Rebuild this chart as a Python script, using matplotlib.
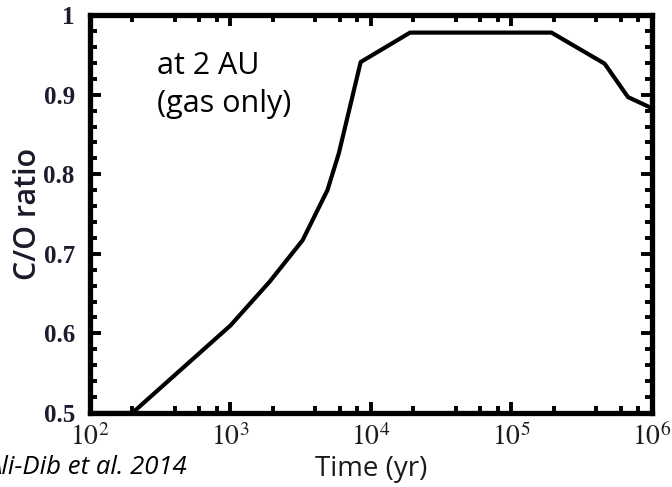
import matplotlib
matplotlib.use("Agg")
import matplotlib.pyplot as plt
from matplotlib.ticker import FixedLocator, MultipleLocator, LogLocator, NullFormatter, FuncFormatter
import numpy as np

# C/O ratio in gas at 2 AU vs time
time_yr = [100, 200, 1000, 1900, 3260, 4900, 5900, 8450, 19000, 193000, 461000, 676000, 1000000]
co_ratio = [0.5, 0.5, 0.61, 0.665, 0.717, 0.78, 0.826, 0.941, 0.978, 0.978, 0.939, 0.897, 0.883]

ytick_vals = [0.5, 0.6, 0.7, 0.8, 0.9, 1.0]
ytick_labels = ['0.5', '0.6', '0.7', '0.8', '0.9', '1']

plt.rcParams['mathtext.fontset'] = 'stix'
plt.rcParams['xtick.labelsize'] = 20

fig = plt.figure(figsize=(6.72, 4.87), dpi=100)
ax = fig.add_axes([0.134, 0.152, 0.836, 0.817])

ax.plot(time_yr, co_ratio, color='black', lw=3, solid_joinstyle='round', clip_on=False, zorder=3)

ax.set_xscale('log')
ax.set_xlim(1e2, 1e6)
ax.set_ylim(0.5, 1.0)

ax.yaxis.set_major_locator(FixedLocator(ytick_vals))
ax.set_yticklabels(ytick_labels, fontfamily='Liberation Serif', fontweight='bold',
                   fontsize=18, color='#1c1c2e')
ax.yaxis.set_minor_locator(MultipleLocator(0.02))
ax.xaxis.set_major_locator(LogLocator(base=10, numticks=10))
ax.xaxis.set_major_formatter(FuncFormatter(lambda v, p: r'$10^{%d}$' % round(np.log10(v))))
ax.xaxis.set_minor_locator(LogLocator(base=10, subs=[2, 4, 6, 8], numticks=10))
ax.xaxis.set_minor_formatter(NullFormatter())

for s in ax.spines.values():
    s.set_linewidth(3.8)

ax.tick_params(which='both', direction='in', top=True, right=True, width=2.8)
ax.tick_params(which='major', length=8)
ax.tick_params(which='minor', length=5)
ax.tick_params(axis='y', which='major', pad=11)
ax.tick_params(axis='x', which='major', pad=7, labelcolor='#1c1c1c')

ax.set_ylabel('C/O ratio', fontfamily='Open Sans', fontsize=22, fontweight='semibold',
              color='#1a1a2a', labelpad=0)
ax.set_xlabel('Time (yr)', fontfamily='Open Sans', fontsize=20, color='#1a1a1a')
ax.xaxis.label.set_va('center')
ax.xaxis.set_label_coords(0.5, -0.142)

ax.text(157, 487 - 74, 'at 2 AU', transform=None, fontfamily='Open Sans',
        fontsize=22, va='baseline', ha='left')
ax.text(157, 487 - 112, '(gas only)', transform=None, fontfamily='Open Sans',
        fontsize=22, va='baseline', ha='left')

fig.text(187 / 672, 1 - 468 / 487, 'Ali-Dib et al. 2014', fontfamily='Open Sans',
         style='italic', fontsize=18.5, ha='right', va='center')

fig.savefig('out.png', dpi=100)
